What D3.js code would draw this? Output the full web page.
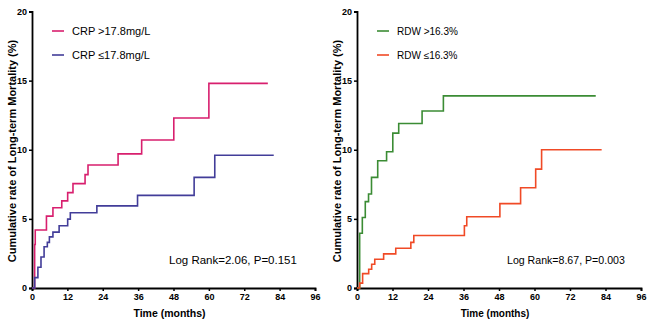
<!DOCTYPE html>
<html>
<head>
<meta charset="utf-8">
<script src="https://cdn.jsdelivr.net/npm/d3@7"></script>
<style>
  body { margin: 0; background: #fff; }
  text { font-family: Arial, "Liberation Sans", sans-serif; }
</style>
</head>
<body>
<svg id="chart" width="650" height="331"></svg>
<script>
// step times (months) and cumulative mortality (%)
const crpHighT = [0, 0.9, 1.1, 4.9, 7.1, 10.1, 12.1, 13.9, 18, 19, 29.2, 37.2, 48.1, 60, 80];
const crpHighV = [0, 3.15, 4.2, 5.2, 5.8, 6.3, 6.9, 7.55, 8.2, 8.9, 9.7, 10.7, 12.3, 14.8, 14.8];
const crpLowT = [0, 0.9, 2, 3.05, 4.1, 5.2, 5.9, 7.1, 9.2, 12.1, 13, 22, 35.8, 55, 62, 82];
const crpLowV = [0, 0.75, 1.5, 2.24, 2.98, 3.3, 3.7, 4.04, 4.5, 4.98, 5.44, 5.94, 6.7, 8.0, 9.6, 9.6];
const rdwHighT = [0, 0.9, 1.8, 2.8, 3.9, 4.9, 7, 10, 12.1, 14.1, 22, 29.2, 80.7];
const rdwHighV = [0, 3.96, 5.1, 6.25, 6.8, 8.0, 9.2, 9.85, 11.2, 11.9, 12.8, 13.9, 13.9];
const rdwLowT = [0, 0.9, 1.9, 3.95, 4.96, 6, 9, 13.1, 18.2, 19.2, 36.3, 37.1, 48.3, 55.3, 60.4, 62.4, 82.7];
const rdwLowV = [0, 0.35, 1.04, 1.36, 1.72, 2.08, 2.47, 2.87, 3.3, 3.8, 4.5, 5.15, 6.1, 7.25, 8.6, 10.0, 10.0];

const xTicks = [0, 12, 24, 36, 48, 60, 72, 84, 96];
const yTicks = [0, 5, 10, 15, 20];

const svg = d3.select('#chart');

function panel(opts) {
    const x = d3.scaleLinear().domain([0, 96]).range([opts.left, opts.right]);
    const y = d3.scaleLinear().domain([0, 20]).range([288, 11.5]);

    const gx = svg.append('g')
        .attr('transform', 'translate(0,288)')
        .call(d3.axisBottom(x).tickValues(xTicks).tickSize(3).tickPadding(3));
    const gy = svg.append('g')
        .attr('transform', `translate(${opts.left},0)`)
        .call(d3.axisLeft(y).tickValues(yTicks).tickSize(3).tickPadding(2));
    [gx, gy].forEach(g => {
        g.select('.domain').attr('stroke', '#000').attr('stroke-width', 1.8);
        g.selectAll('.tick line').attr('stroke', '#000').attr('stroke-width', 1.5);
        g.selectAll('text')
            .attr('fill', '#000')
            .style('font-size', '9px')
            .style('font-weight', 'bold')
            .style('font-family', 'Arial, "Liberation Sans", sans-serif');
    });

    svg.append('text')
        .attr('x', (opts.left + opts.right) / 2 - 4)
        .attr('y', 317)
        .attr('text-anchor', 'middle')
        .style('font-size', opts.axisFont)
        .style('font-weight', 'bold')
        .text('Time (months)');

    svg.append('text')
        .attr('transform', `translate(${opts.left - 16},151) rotate(-90)`)
        .attr('text-anchor', 'middle')
        .style('font-size', '11px')
        .style('font-weight', 'bold')
        .text('Cumulative rate of Long-term Mortality (%)');

    const line = d3.line()
        .x(d => x(d[0]))
        .y(d => y(d[1]))
        .curve(d3.curveStepAfter);

    opts.series.forEach((s, i) => {
        const pts = s.t.map((t, j) => [t, s.v[j]]);
        svg.append('path')
            .datum(pts)
            .attr('d', line)
            .attr('fill', 'none')
            .attr('stroke', s.color)
            .attr('stroke-width', 1.6);

        const ly = 31 + i * 24;
        svg.append('line')
            .attr('x1', opts.legX).attr('x2', opts.legX + 12)
            .attr('y1', ly).attr('y2', ly)
            .attr('stroke', s.color)
            .attr('stroke-width', 1.6);
        svg.append('text')
            .attr('x', opts.legX + 20)
            .attr('y', ly + 4)
            .style('font-size', opts.legFont)
            .text(s.name);
    });

    svg.append('text')
        .attr('x', opts.statX)
        .attr('y', 264)
        .style('font-size', opts.statFont)
        .text(opts.stat);
}

panel({
    left: 32, right: 315, legX: 52, axisFont: '10.5px', legFont: '11px',
    statX: 169, statFont: '11.5px', stat: 'Log Rank=2.06, P=0.151',
    series: [
        { name: 'CRP >17.8mg/L', t: crpHighT, v: crpHighV, color: '#d81f6e' },
        { name: 'CRP \u226417.8mg/L', t: crpLowT, v: crpLowV, color: '#423d99' }
    ]
});

panel({
    left: 357, right: 641, legX: 377, axisFont: '10px', legFont: '10px',
    statX: 507, statFont: '10.6px', stat: 'Log Rank=8.67, P=0.003',
    series: [
        { name: 'RDW >16.3%', t: rdwHighT, v: rdwHighV, color: '#3b8c34' },
        { name: 'RDW \u226416.3%', t: rdwLowT, v: rdwLowV, color: '#f04a26' }
    ]
});
</script>
</body>
</html>
